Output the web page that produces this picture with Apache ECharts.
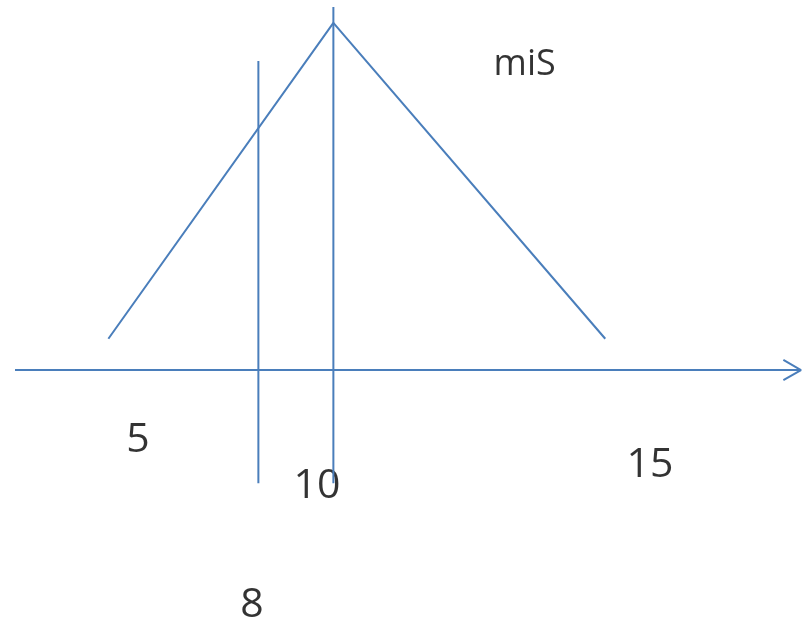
<!DOCTYPE html>
<html>
<head>
<meta charset="utf-8">
<style>
  html, body { margin: 0; padding: 0; background: #ffffff; }
  #chart { width: 804px; height: 622px; }
</style>
<script src="https://cdn.jsdelivr.net/npm/echarts@6/dist/echarts.min.js"></script>
</head>
<body>
<div id="chart"></div>
<script>
// Triangular membership function "miS": feet, peak
const triangleX = [4, 10, 17.25];
const triangleY = [0.09, 1, 0.09];

// Vertical markers at x = 8 and x = 10
const markerX = [8, 10];
const markerTop = [0.89, 1.046];
const markerBottom = [-0.326, -0.326];

// Horizontal axis with an open arrow head
const axisX = [1.51, 22.47];
const arrowBackX = 22.0;
const arrowHalfY = 0.029;

// Free text labels
const labelText = ['5', '10', '15', '8', 'miS'];
const labelX = [4.79, 9.56, 18.44, 7.83, 15.1];
const labelY = [-0.202, -0.334, -0.274, -0.677, 0.88];
const labelSize = [41, 41, 41, 41, 36];

const blue = '#4a7ebb';
const lineStyle = { color: blue, width: 2 };

const series = [];

series.push({
  type: 'line', name: 'miS', symbol: 'none', lineStyle,
  data: triangleX.map((x, i) => [x, triangleY[i]])
});

markerX.forEach((x, i) => {
  series.push({
    type: 'line', symbol: 'none', lineStyle,
    data: [[x, markerTop[i]], [x, markerBottom[i]]]
  });
});

series.push({
  type: 'line', symbol: 'none', lineStyle,
  data: [[axisX[0], 0], [axisX[1], 0]]
});
series.push({
  type: 'line', symbol: 'none', lineStyle,
  data: [[arrowBackX, arrowHalfY], [axisX[1], 0], [arrowBackX, -arrowHalfY]]
});

series.push({
  type: 'scatter', symbolSize: 0,
  data: labelText.map((t, i) => ({
    name: t, value: [labelX[i], labelY[i]],
    label: { fontSize: labelSize[i] }
  })),
  label: {
    show: true, position: 'inside', formatter: '{b}',
    color: '#000000', fontFamily: 'Open Sans', align: 'center', verticalAlign: 'middle'
  }
});

const chart = echarts.init(document.getElementById('chart'), null, { renderer: 'canvas' });
chart.setOption({
  animation: false,
  backgroundColor: '#ffffff',
  grid: { left: 0, right: 0, top: 0, bottom: 0 },
  xAxis: { type: 'value', min: 1.11, max: 22.55, show: false },
  yAxis: { type: 'value', min: -0.726, max: 1.066, show: false },
  series
});
</script>
</body>
</html>
